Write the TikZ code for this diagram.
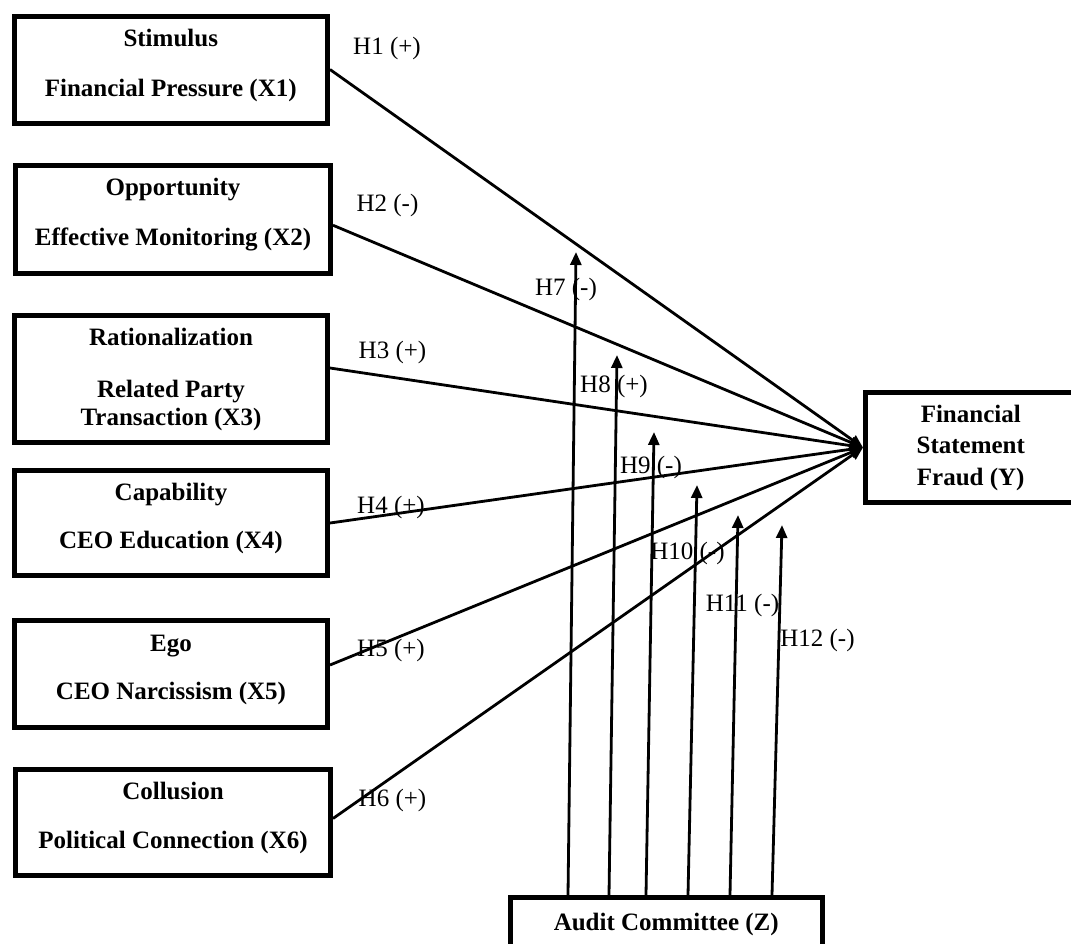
\documentclass[tikz,border=0pt]{standalone}
\usepackage{fontspec}
\setmainfont{Liberation Serif}
\usetikzlibrary{arrows.meta}
\newcommand\fsz{\fontsize{25}{28}\selectfont}
\newcommand\lowstrut{\rule[-14pt]{0pt}{14pt}}
\begin{document}
\begin{tikzpicture}[x=1pt,y=-1pt,
  box/.style={draw, line width=5pt, align=center, inner sep=0pt, font=\fsz\bfseries},
  link/.style={line width=2.8pt, -{Triangle[length=13pt,width=11pt]}},
  hyp/.style={inner sep=0pt, font=\fsz}]
\useasboundingbox[fill=white] (0,0) rectangle (1071,943);
\clip (0,0) rectangle (1071,943);

% independent variables
\node[box, minimum width=313.5pt, minimum height=107pt] (b1) at (170.75,69.5)
  {Stimulus\\[22pt]Financial Pressure (X1)\lowstrut};
\node[box, minimum width=315pt, minimum height=107.5pt] (b2) at (173,219.25)
  {Opportunity\\[22pt]Effective Monitoring (X2)\lowstrut};
\node[box, minimum width=313pt, minimum height=127pt] (b3) at (171,379)
  {Rationalization\\[24pt]Related Party\\Transaction (X3)};
\node[box, minimum width=313pt, minimum height=105pt] (b4) at (171,523)
  {Capability\\[20pt]CEO Education (X4)\lowstrut};
\node[box, minimum width=313pt, minimum height=107pt] (b5) at (171,674)
  {Ego\\[20pt]CEO Narcissism (X5)\lowstrut};
\node[box, minimum width=315pt, minimum height=106pt] (b6) at (173,822.5)
  {Collusion\\[21pt]Political Connection (X6)\lowstrut};

% dependent variable and moderator
\node[box, minimum width=210.5pt, minimum height=110pt] (Y) at (970.75,447.5)
  {Financial\\[3.5pt]Statement\\[3.5pt]Fraud (Y)};
\node[box, minimum width=312.5pt, minimum height=53pt] (Z) at (666.25,924)
  {Audit Committee (Z)};

% direct paths
\draw[link] (b1.east) -- (Y.west);
\draw[link] ([yshift=-6pt]b2.east) -- (Y.west);
\draw[link] ([yshift=11pt]b3.east) -- (Y.west);
\draw[link] (b4.east) -- (Y.west);
\draw[link] ([yshift=9pt]b5.east) -- (Y.west);
\draw[link] ([yshift=4pt]b6.east) -- (Y.west);

% moderating paths
\coordinate (t7) at (576,252);
\coordinate (t8) at (617,355);
\coordinate (t9) at (654,432);
\coordinate (t10) at (697,485);
\coordinate (t11) at (738,515);
\coordinate (t12) at (782,525);
\draw[link] ([xshift=-98.25pt]Z.north) -- (t7);
\draw[link] ([xshift=-57.25pt]Z.north) -- (t8);
\draw[link] ([xshift=-20.25pt]Z.north) -- (t9);
\draw[link] ([xshift=21.75pt]Z.north) -- (t10);
\draw[link] ([xshift=63.75pt]Z.north) -- (t11);
\draw[link] ([xshift=105.75pt]Z.north) -- (t12);

% hypothesis labels
\node[hyp] (h1) at (387,48) {H1 (+)};
\node[hyp] (h2) at (387.5,205) {H2 (-)};
\node[hyp] (h3) at (392.5,352) {H3 (+)};
\node[hyp] (h4) at (391,507) {H4 (+)};
\node[hyp] (h5) at (391,650) {H5 (+)};
\node[hyp] (h6) at (392.5,800) {H6 (+)};
\node[hyp] (h7) at (566,289) {H7 (-)};
\node[hyp] (h8) at (614,386) {H8 (+)};
\node[hyp] (h9) at (651,467) {H9 (-)};
\node[hyp] (h10) at (687.5,553) {H10 (-)};
\node[hyp] (h11) at (742.5,605) {H11 (-)};
\node[hyp] (h12) at (817.5,640) {H12 (-)};
\end{tikzpicture}
\end{document}
